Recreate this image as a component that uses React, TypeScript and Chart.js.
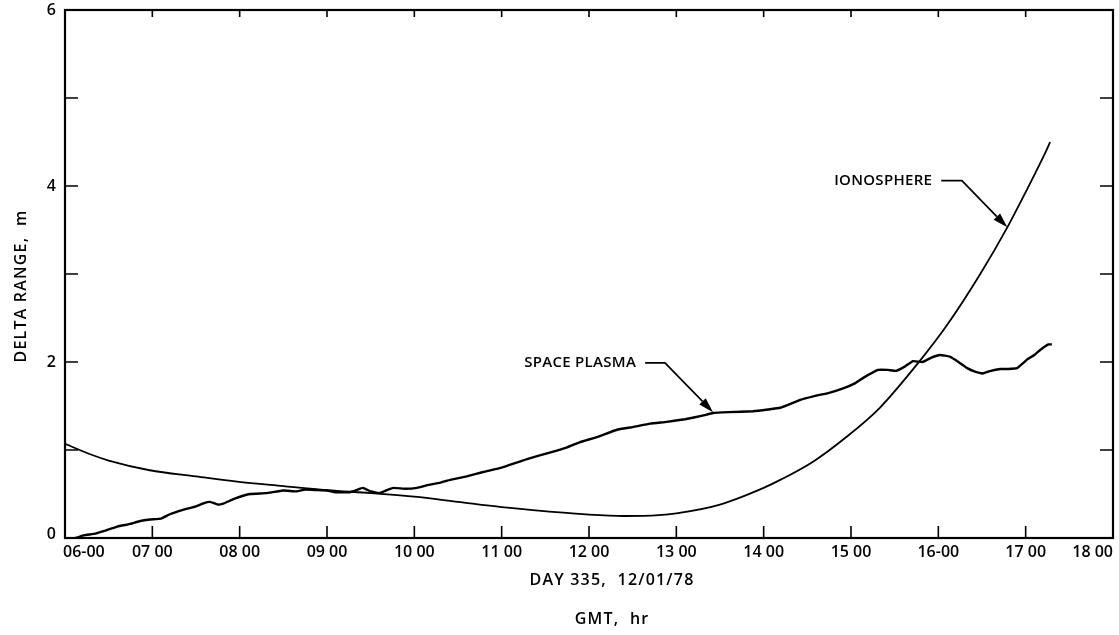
import React, { useEffect, useRef } from "react";
import { Chart, registerables } from "chart.js";

Chart.register(...registerables);

// ---------- data ----------
const ionoHours = [6.0, 6.32, 6.5, 6.97, 7.5, 7.97, 8.5, 9.0, 9.5, 10.0, 10.5, 11.0, 11.55, 12.0, 12.4, 12.8, 13.0, 13.5, 14.0, 14.19, 14.57, 14.95, 15.33, 15.77, 16.1, 16.48, 16.79, 17.0, 17.24, 17.28];
const ionoValues = [1.07, 0.94, 0.88, 0.77, 0.7, 0.64, 0.59, 0.545, 0.51, 0.47, 0.41, 0.35, 0.3, 0.265, 0.25, 0.26, 0.28, 0.38, 0.57, 0.66, 0.87, 1.15, 1.48, 1.99, 2.42, 3.0, 3.53, 3.93, 4.41, 4.5];

const plasmaHours = [6.0, 6.05, 6.12, 6.21, 6.35, 6.45, 6.6, 6.75, 6.85, 6.97, 7.1, 7.2, 7.35, 7.5, 7.6, 7.66, 7.75, 7.81, 7.95, 8.12, 8.3, 8.5, 8.65, 8.75, 8.88, 9.0, 9.1, 9.26, 9.35, 9.41, 9.5, 9.6, 9.7, 9.76, 9.9, 10.03, 10.15, 10.3, 10.41, 10.6, 10.79, 11.0, 11.18, 11.3, 11.55, 11.75, 11.9, 12.1, 12.32, 12.5, 12.7, 12.89, 13.1, 13.3, 13.42, 13.6, 13.88, 14.05, 14.19, 14.42, 14.57, 14.75, 14.91, 15.05, 15.14, 15.31, 15.42, 15.52, 15.62, 15.71, 15.82, 15.92, 16.02, 16.13, 16.23, 16.33, 16.42, 16.51, 16.6, 16.71, 16.8, 16.9, 17.02, 17.1, 17.17, 17.26, 17.3];
const plasmaValues = [-0.01, -0.02, 0.0, 0.03, 0.05, 0.08, 0.13, 0.16, 0.19, 0.21, 0.22, 0.27, 0.32, 0.36, 0.4, 0.41, 0.38, 0.39, 0.45, 0.5, 0.51, 0.54, 0.53, 0.55, 0.545, 0.54, 0.52, 0.52, 0.55, 0.57, 0.53, 0.51, 0.55, 0.57, 0.56, 0.57, 0.6, 0.63, 0.66, 0.7, 0.75, 0.8, 0.86, 0.9, 0.97, 1.03, 1.09, 1.15, 1.23, 1.26, 1.3, 1.32, 1.35, 1.39, 1.42, 1.43, 1.44, 1.46, 1.48, 1.57, 1.61, 1.65, 1.7, 1.76, 1.82, 1.91, 1.91, 1.9, 1.95, 2.01, 2.0, 2.05, 2.08, 2.06, 2.0, 1.93, 1.89, 1.87, 1.9, 1.92, 1.92, 1.93, 2.03, 2.08, 2.14, 2.2, 2.2];

const xTickHours = [6, 7, 8, 9, 10, 11, 12, 13, 14, 15, 16, 17, 18];
const xTickLabels = ["06-00", "07 00", "08 00", "09 00", "10 00", "11 00", "12 00", "13 00", "14 00", "15 00", "16-00", "17 00", "18 00"];
const yTickValues = [0, 1, 2, 3, 4, 5, 6];
const yLabelValues = [0, 2, 4, 6];
const yLabels = ["0", "2", "4", "6"];

const xTitle1 = "DAY 335,  12/01/78";
const xTitle2 = "GMT,  hr";
const yTitle = "DELTA RANGE,  m";

// annotations in data units: label end / leader bend / arrow tip
const ionoNote = { text: "IONOSPHERE", labelX: 15.93, labelY: 4.06, bendX: 16.27, tipX: 16.79, tipY: 3.53 };
const plasmaNote = { text: "SPACE PLASMA", labelX: 12.54, labelY: 1.99, bendX: 12.87, tipX: 13.42, tipY: 1.43 };

const FONT = '"Open Sans", "DejaVu Sans", sans-serif';

const framePlugin = {
  id: "framePlugin",
  afterDatasetsDraw(chart: any) {
    const ctx = chart.ctx as CanvasRenderingContext2D;
    const xs = chart.scales.x;
    const ys = chart.scales.y;
    const a = chart.chartArea;
    ctx.save();
    ctx.strokeStyle = "#000";
    ctx.fillStyle = "#000";
    // frame
    ctx.lineWidth = 2.2;
    ctx.strokeRect(a.left, a.top, a.right - a.left, a.bottom - a.top);
    // x ticks (inward, bottom and top)
    ctx.lineWidth = 1.6;
    xTickHours.forEach((h) => {
      const px = xs.getPixelForValue(h);
      ctx.beginPath();
      ctx.moveTo(px, a.bottom);
      ctx.lineTo(px, a.bottom - 12);
      ctx.moveTo(px, a.top);
      ctx.lineTo(px, a.top + 7);
      ctx.stroke();
    });
    // y ticks (inward, left and right)
    yTickValues.forEach((v) => {
      const py = ys.getPixelForValue(v);
      ctx.beginPath();
      ctx.moveTo(a.left, py);
      ctx.lineTo(a.left + 13, py);
      ctx.moveTo(a.right, py);
      ctx.lineTo(a.right - 13, py);
      ctx.stroke();
    });
    // x tick labels
    ctx.font = `600 16px ${FONT}`;
    ctx.textBaseline = "middle";
    (ctx as any).letterSpacing = "0px";
    xTickHours.forEach((h, i) => {
      const px = xs.getPixelForValue(h);
      if (i === 0) {
        ctx.textAlign = "left";
        ctx.fillText(xTickLabels[i], px - 2, a.bottom + 14);
      } else if (i === xTickHours.length - 1) {
        ctx.textAlign = "right";
        ctx.fillText(xTickLabels[i], px, a.bottom + 14);
      } else {
        ctx.textAlign = "center";
        ctx.fillText(xTickLabels[i], px, a.bottom + 14);
      }
    });
    // y tick labels
    ctx.textAlign = "right";
    yLabelValues.forEach((v, i) => {
      const py = ys.getPixelForValue(v);
      ctx.fillText(yLabels[i], a.left - 9, py - (v === 0 ? 4 : 0));
    });
    // titles
    ctx.font = `600 16px ${FONT}`;
    ctx.textAlign = "center";
    (ctx as any).letterSpacing = "1.2px";
    ctx.fillText(xTitle1, 612, a.bottom + 42);
    ctx.fillText(xTitle2, 612, a.bottom + 81);
    ctx.save();
    ctx.translate(21, (a.top + a.bottom) / 2 + 12);
    ctx.rotate(-Math.PI / 2);
    ctx.fillText(yTitle, 0, 0);
    ctx.restore();

    // annotations
    (ctx as any).letterSpacing = "0.3px";
    const drawNote = (n: any) => {
      const lx = xs.getPixelForValue(n.labelX);
      const ly = ys.getPixelForValue(n.labelY);
      const bx = xs.getPixelForValue(n.bendX);
      const tx = xs.getPixelForValue(n.tipX);
      const ty = ys.getPixelForValue(n.tipY);
      ctx.font = `600 15px ${FONT}`;
      ctx.textAlign = "right";
      ctx.textBaseline = "middle";
      ctx.fillText(n.text, lx, ly);
      const sx = lx + 9;
      ctx.lineWidth = 1.7;
      ctx.beginPath();
      ctx.moveTo(sx, ly);
      ctx.lineTo(bx, ly);
      const ang = Math.atan2(ty - ly, tx - bx);
      const hl = 15;
      const hw = 4.5;
      const baseX = tx - hl * Math.cos(ang);
      const baseY = ty - hl * Math.sin(ang);
      ctx.lineTo(baseX, baseY);
      ctx.stroke();
      ctx.beginPath();
      ctx.moveTo(tx, ty);
      ctx.lineTo(baseX + hw * Math.sin(ang), baseY - hw * Math.cos(ang));
      ctx.lineTo(baseX - hw * Math.sin(ang), baseY + hw * Math.cos(ang));
      ctx.closePath();
      ctx.fill();
    };
    drawNote(ionoNote);
    drawNote(plasmaNote);
    ctx.restore();
  },
};

export default function App() {
  const ref = useRef<HTMLCanvasElement | null>(null);
  useEffect(() => {
    if (!ref.current) return;
    const chart = new Chart(ref.current, {
      type: "line",
      data: {
        datasets: [
          {
            label: "Ionosphere",
            data: ionoHours.map((h, i) => ({ x: h, y: ionoValues[i] })),
            borderColor: "#000",
            borderWidth: 1.8,
            pointRadius: 0,
            cubicInterpolationMode: "monotone",
            fill: false,
          },
          {
            label: "Space plasma",
            data: plasmaHours.map((h, i) => ({ x: h, y: plasmaValues[i] })),
            borderColor: "#000",
            borderWidth: 2.4,
            pointRadius: 0,
            tension: 0.1,
            fill: false,
          },
        ],
      },
      options: {
        animation: false,
        responsive: false,
        maintainAspectRatio: false,
        devicePixelRatio: 1,
        layout: { padding: { left: 65, right: 6, top: 10, bottom: 97 } },
        plugins: { legend: { display: false }, tooltip: { enabled: false } },
        scales: {
          x: { type: "linear", min: 6, max: 18, display: false },
          y: { type: "linear", min: 0, max: 6, display: false },
        },
      },
      plugins: [framePlugin],
    });
    return () => chart.destroy();
  }, []);
  return (
    <div style={{ position: "fixed", left: 0, top: 0, width: 1119, height: 635, background: "#fff" }}>
      <canvas ref={ref} width={1119} height={635} style={{ width: 1119, height: 635 }} />
    </div>
  );
}
